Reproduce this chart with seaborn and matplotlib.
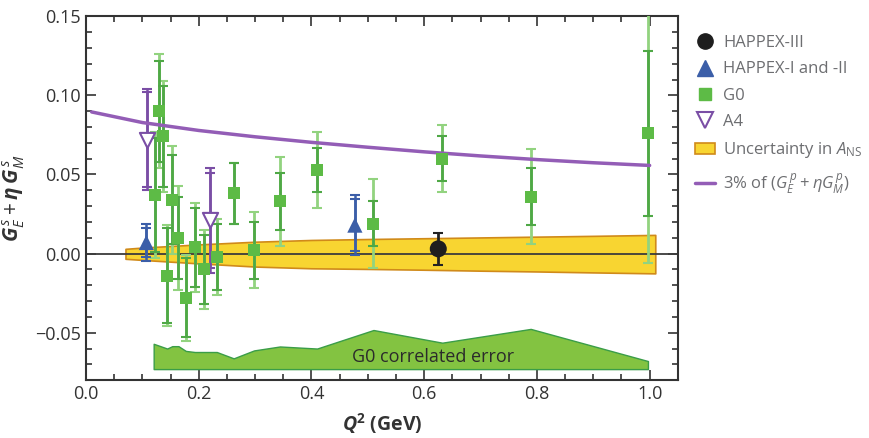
import matplotlib
matplotlib.use("Agg")
import matplotlib.pyplot as plt
import seaborn as sns
from matplotlib.lines import Line2D
from matplotlib.patches import Patch
from matplotlib.ticker import MultipleLocator, FuncFormatter

# G0 forward-angle points: value, statistical error (inner bar), total error (outer bar)
g0_q2 = [0.122, 0.129, 0.136, 0.144, 0.153, 0.164, 0.177, 0.193, 0.210,
         0.232, 0.262, 0.298, 0.344, 0.410, 0.510, 0.632, 0.789, 0.997]
g0_val = [0.037, 0.090, 0.074, -0.014, 0.034, 0.010, -0.028, 0.004, -0.010,
          -0.002, 0.038, 0.002, 0.033, 0.053, 0.019, 0.060, 0.036, 0.076]
g0_stat = [0.036, 0.032, 0.032, 0.030, 0.028, 0.026, 0.025, 0.025, 0.022,
           0.021, 0.019, 0.018, 0.018, 0.014, 0.014, 0.014, 0.018, 0.052]
g0_tot = [0.040, 0.036, 0.035, 0.032, 0.034, 0.033, 0.027, 0.028, 0.025,
          0.024, 0.019, 0.024, 0.028, 0.024, 0.028, 0.021, 0.030, 0.082]

# HAPPEX-I and -II
hap12_q2 = [0.107, 0.477]
hap12_val = [0.007, 0.018]
hap12_stat = [0.009, 0.0165]
hap12_tot = [0.0115, 0.019]

# HAPPEX-III
hap3_q2 = [0.625]
hap3_val = [0.003]
hap3_err = [0.010]

# A4
a4_q2 = [0.108, 0.220]
a4_val = [0.072, 0.021]
a4_stat = [0.030, 0.030]
a4_tot = [0.032, 0.033]

# 3% of (G_E^p + eta G_M^p)
curve_q2 = [0.01, 0.1, 0.2, 0.3, 0.4, 0.5, 0.6, 0.7, 0.8, 0.9, 1.0]
curve_val = [0.0895, 0.0828, 0.0778, 0.0738, 0.0703, 0.0672, 0.0643, 0.0617,
             0.0594, 0.0574, 0.0557]

# uncertainty in A_NS (yellow band)
ans_q2 = [0.07, 0.1, 0.2, 0.3, 0.4, 0.5, 0.6, 0.7, 0.8, 0.9, 1.01]
ans_hi = [0.0030, 0.0038, 0.0058, 0.0075, 0.0086, 0.0092, 0.0097, 0.0102,
          0.0107, 0.0112, 0.0118]
ans_lo = [-0.0033, -0.0040, -0.0062, -0.0082, -0.0093, -0.0097, -0.0102,
          -0.0108, -0.0113, -0.0119, -0.0125]

# G0 correlated error (green band at the bottom)
corr_q2 = [0.120, 0.136, 0.144, 0.153, 0.164, 0.177, 0.193, 0.232, 0.262,
           0.298, 0.344, 0.410, 0.510, 0.632, 0.789, 0.997]
corr_top = [-0.0570, -0.0590, -0.0600, -0.0585, -0.0585, -0.0615, -0.0622,
            -0.0622, -0.0662, -0.0612, -0.0587, -0.0600, -0.0483, -0.0563,
            -0.0476, -0.0679]
corr_base = -0.0730

green_sq = "#5dbb46"
green_out = "#92d37f"
green_in = "#4fa846"
green_cap = "#2f8a4e"
purple = "#935db6"
a4_col = "#7a4ea5"
blue = "#3b5ea8"
text_gray = "#6d6e71"

sns.set_theme(style="ticks")
plt.rcParams["font.family"] = ["Open Sans", "DejaVu Sans"]
plt.rcParams["mathtext.fontset"] = "custom"
plt.rcParams["mathtext.rm"] = "Open Sans"
plt.rcParams["mathtext.it"] = "Open Sans:italic"
plt.rcParams["mathtext.bf"] = "Open Sans:bold"
plt.rcParams["mathtext.bfit"] = "Open Sans:italic:bold"

fig = plt.figure(figsize=(8.69, 4.38), dpi=100)
ax = fig.add_axes([0.099, 0.132, 0.681, 0.831])

ax.fill_between(ans_q2, ans_lo, ans_hi, facecolor="#f8d531", edgecolor="#d08a1a",
                lw=1.2, zorder=1)
ax.axhline(0, color="#3c3c3c", lw=1.3, zorder=2)
ax.fill_between(corr_q2, corr_base, corr_top, facecolor="#83c341",
                edgecolor="#3a9d48", lw=1.0, zorder=1)
ax.text(0.616, -0.0655, "G0 correlated error", ha="center", va="center",
        fontsize=13, color="#2b2b2b", zorder=3)


def bars(x, y, err, color, capcolor, lw, z):
    _, caps, _ = ax.errorbar(x, y, yerr=err, fmt="none", ecolor=color,
                             elinewidth=lw, capsize=3.5, capthick=1.5, zorder=z)
    for c in caps:
        c.set_color(capcolor)


bars(g0_q2, g0_val, g0_tot, green_out, green_out, 2.0, 3)
bars(g0_q2, g0_val, g0_stat, green_in, green_cap, 2.0, 4)
bars(hap12_q2, hap12_val, hap12_tot, blue, blue, 1.8, 4)
bars(hap12_q2, hap12_val, hap12_stat, blue, blue, 1.8, 4)
bars(a4_q2, a4_val, a4_tot, a4_col, a4_col, 1.8, 4)
bars(a4_q2, a4_val, a4_stat, a4_col, a4_col, 1.8, 4)
bars(hap3_q2, hap3_val, hap3_err, "#222222", "#222222", 2.0, 4)

sns.lineplot(x=curve_q2, y=curve_val, color=purple, lw=2.5, ax=ax, zorder=5)

sns.scatterplot(x=g0_q2, y=g0_val, marker="s", s=75, color=green_sq,
                edgecolor="none", ax=ax, zorder=6)
sns.scatterplot(x=hap12_q2, y=hap12_val, marker="^", s=120, color=blue,
                edgecolor="none", ax=ax, zorder=6)
sns.scatterplot(x=a4_q2, y=a4_val, marker="v", s=120, facecolor="white",
                edgecolor=a4_col, linewidth=1.5, ax=ax, zorder=6)
sns.scatterplot(x=hap3_q2, y=hap3_val, marker="o", s=150, color="#1e1e1e",
                edgecolor="none", ax=ax, zorder=6)

ax.set_xlim(0, 1.05)
ax.set_ylim(-0.08, 0.15)
ax.xaxis.set_major_locator(MultipleLocator(0.2))
ax.xaxis.set_minor_locator(MultipleLocator(0.05))
ax.yaxis.set_major_locator(MultipleLocator(0.05))
ax.yaxis.set_minor_locator(MultipleLocator(0.01))
ax.xaxis.set_major_formatter(FuncFormatter(lambda v, p: f"{v:.1f}"))
ax.yaxis.set_major_formatter(
    FuncFormatter(lambda v, p: f"{v:.2f}".replace("-", "\u2212")))
ax.tick_params(which="both", direction="in", top=True, right=True,
               color="#333333", labelcolor="#333333", labelsize=13, width=1.2)
ax.tick_params(which="major", length=7)
ax.tick_params(which="minor", length=4)
for sp in ax.spines.values():
    sp.set_color("#333333")
    sp.set_linewidth(1.5)

ax.set_xlabel(r"$\mathbfit{Q}^{\mathbf{2}}$ (GeV)", fontsize=14,
              fontweight="bold", color="#333333", labelpad=6)
ax.set_ylabel(r"$\mathbfit{G}^{\,s}_{E} + \mathbfit{\eta}\,\mathbfit{G}^{\,s}_{M}$",
              fontsize=15, color="#333333", labelpad=6)

handles = [
    Line2D([], [], marker="o", ls="none", color="#1e1e1e", markersize=11),
    Line2D([], [], marker="^", ls="none", color=blue, markersize=11),
    Line2D([], [], marker="s", ls="none", color=green_sq, markersize=8),
    Line2D([], [], marker="v", ls="none", markerfacecolor="white",
           markeredgecolor=a4_col, markeredgewidth=1.5, markersize=11),
    Patch(facecolor="#f8d531", edgecolor="#d08a1a", lw=1.2),
    Line2D([], [], color=purple, lw=2.5),
]
labels = [
    "HAPPEX-III",
    "HAPPEX-I and -II",
    "G0",
    "A4",
    r"Uncertainty in $A_{\mathrm{NS}}$",
    r"3% of $(G_E^{\,p} + \eta G_M^{\,p})$",
]
leg = fig.legend(handles, labels, loc="upper left",
                 bbox_to_anchor=(0.792, 0.935), frameon=False, fontsize=12,
                 handlelength=1.2, handletextpad=0.5, labelspacing=0.62,
                 borderaxespad=0)
for t in leg.get_texts():
    t.set_color(text_gray)

fig.savefig("out.png", dpi=100)
